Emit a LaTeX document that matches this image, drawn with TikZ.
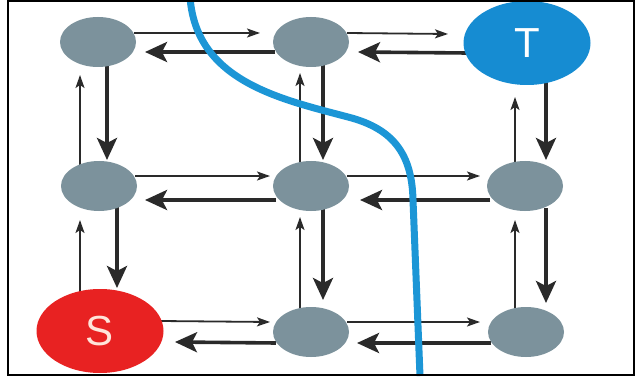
\documentclass[tikz,border=0pt]{standalone}
\usepackage{fontspec}
\setmainfont{Liberation Sans}
\usetikzlibrary{arrows.meta,calc,shapes.geometric}
\definecolor{nodegray}{RGB}{124,146,156}
\definecolor{tblue}{RGB}{22,140,210}
\definecolor{curveblue}{RGB}{28,150,214}
\definecolor{sred}{RGB}{232,34,34}
\definecolor{sletter}{RGB}{255,228,218}
\definecolor{arrowc}{RGB}{42,42,42}
\pgfdeclarelayer{paper}
\pgfdeclarelayer{background}
\pgfsetlayers{paper,background,main}
\tikzset{
  gnode/.style={ellipse,fill=nodegray,minimum width=76pt,minimum height=50pt,inner sep=0pt},
  bignode/.style={ellipse,minimum width=127pt,minimum height=84pt,inner sep=0pt,font=\fontsize{42}{42}\selectfont},
  thinarr/.style={draw=arrowc,line width=1.8pt,-{Stealth[length=13pt,width=9pt,inset=3pt]}},
  thickarr/.style={draw=arrowc,line width=3.6pt,-{Stealth[length=22pt,width=20pt,inset=5pt]}},
  cutline/.style={draw=curveblue,line width=7pt},
  frameline/.style={draw=black,line width=2pt}
}
\begin{document}
\begin{tikzpicture}[x=1pt,y=1pt]
\useasboundingbox (0,0) rectangle (635,381);
\begin{pgfonlayer}{paper}
\fill[white] (0,0) rectangle (635,381);
\end{pgfonlayer}
% nodes
\node[gnode] (a11) at (98,339) {};
\node[gnode] (a12) at (311,339) {};
\node[bignode,fill=tblue,text=white] (T) at (527,338) {T};
\node[gnode] (a21) at (99,195) {};
\node[gnode] (a22) at (311,195) {};
\node[gnode] (a23) at (525,195) {};
\node[bignode,fill=sred,text=sletter] (S) at (100,50) {S};
\node[gnode] (a32) at (311,49) {};
\node[gnode] (a33) at (526,49) {};
\begin{pgfonlayer}{background}
% horizontal connectors
\draw[thinarr] ($(a11)+(36,9)$) -- ($(a12)+(-51,9)$);
\draw[thickarr] ($(a12)+(-36,-10)$) -- ($(a11)+(47,-10)$);
\draw[thinarr] ($(a12)+(36,9)$) -- ($(T)+(-79,9)$);
\draw[thickarr] ($(T)+(-60,-10)$) -- ($(a12)+(47,-10)$);
\draw[thinarr] ($(a21)+(36,10)$) -- ($(a22)+(-41,10)$);
\draw[thickarr] ($(a22)+(-35,-14)$) -- ($(a21)+(46,-14)$);
\draw[thinarr] ($(a22)+(36,10)$) -- ($(a23)+(-45,10)$);
\draw[thickarr] ($(a23)+(-35,-14)$) -- ($(a22)+(49,-14)$);
\draw[thinarr] ($(S)+(60,10)$) -- ($(a32)+(-41,10)$);
\draw[thickarr] ($(a32)+(-35,-11)$) -- ($(S)+(75,-11)$);
\draw[thinarr] ($(a32)+(36,10)$) -- ($(a33)+(-46,10)$);
\draw[thickarr] ($(a33)+(-35,-11)$) -- ($(a32)+(46,-11)$);
% vertical connectors
\draw[thinarr] ($(a21)+(-19,20)$) -- ($(a11)+(-18,-33)$);
\draw[thickarr] ($(a11)+(9,-22)$) -- ($(a21)+(8,26)$);
\draw[thinarr] ($(S)+(-20,38)$) -- ($(a21)+(-19,-34)$);
\draw[thickarr] ($(a21)+(18,-20)$) -- ($(S)+(17,43)$);
\draw[thinarr] ($(a22)+(-11,22)$) -- ($(a12)+(-11,-31)$);
\draw[thickarr] ($(a12)+(12,-22)$) -- ($(a22)+(12,26)$);
\draw[thinarr] ($(a32)+(-11,22)$) -- ($(a22)+(-11,-31)$);
\draw[thickarr] ($(a22)+(12,-22)$) -- ($(a32)+(12,32)$);
\draw[thinarr] ($(a23)+(-10,22)$) -- ($(T)+(-12,-54)$);
\draw[thickarr] ($(T)+(19,-38)$) -- ($(a23)+(21,26)$);
\draw[thinarr] ($(a33)+(-11,22)$) -- ($(a23)+(-10,-34)$);
\draw[thickarr] ($(a23)+(21,-22)$) -- ($(a33)+(20,29)$);
\end{pgfonlayer}
% cut curve
\coordinate (c0) at (190,384);
\coordinate (c1) at (348,264);
\coordinate (c2) at (413,181);
\coordinate (c3) at (420,5);
\draw[cutline] (c0) .. controls (196,300) and (280,282) .. (c1)
  .. controls (395,252) and (412,225) .. (c2) -- (c3);
% frame
\draw[frameline] (8,6) rectangle (634,380);
\end{tikzpicture}
\end{document}
